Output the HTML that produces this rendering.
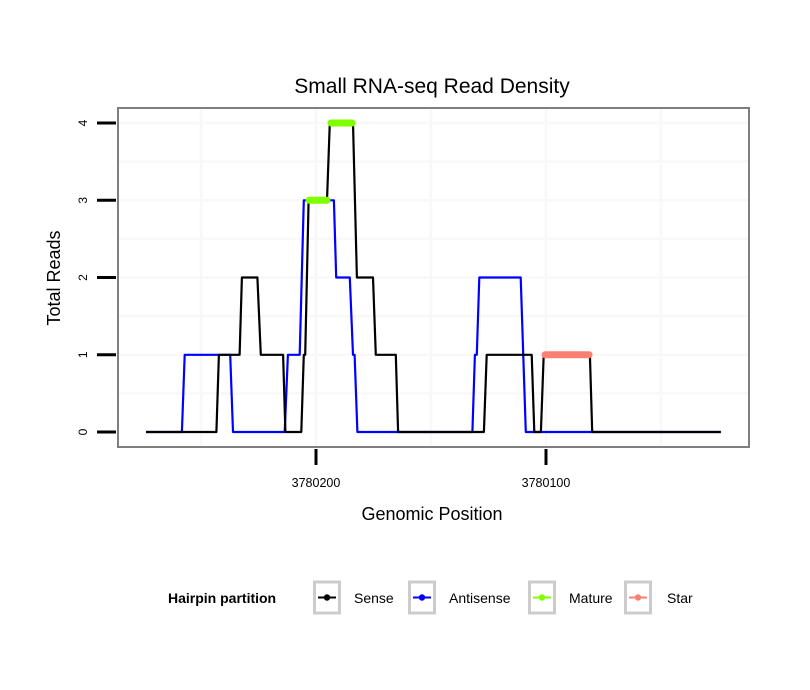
<!DOCTYPE html>
<html><head><meta charset="utf-8"><style>
body{margin:0;background:#fff;}
svg{display:block;font-family:"Liberation Sans",sans-serif;}
</style></head><body>
<svg id="c" width="810" height="690">
<text x="432" y="93" text-anchor="middle" font-size="21">Small RNA-seq Read Density</text>
<g id="grid"></g>
<g id="series"></g>
<rect x="118" y="108" width="631" height="339" fill="none" stroke="#7f7f7f" stroke-width="2"/>
<g id="axes"></g>
<text x="432" y="520" text-anchor="middle" font-size="18">Genomic Position</text>
<text transform="translate(60,278) rotate(-90)" text-anchor="middle" font-size="18">Total Reads</text>
<g id="legend"></g>
</svg>
<script>
const xTicks=[3780200,3780100];
const xMinor=[3780250,3780150,3780050];
const yTicks=[0,1,2,3,4];
const senseX=[3780273.9,3780243.3,3780242.2,3780233.2,3780232.2,3780225.5,3780224.0,3780214.3,3780213.3,3780206.4,3780205.3,3780204.7,3780203.2,3780195.2,3780194.0,3780183.9,3780182.2,3780175.2,3780174.0,3780165.3,3780164.3,3780127.0,3780125.8,3780106.2,3780105.1,3780102.2,3780101.0,3780080.9,3780079.9,3780024.0];
const senseY=[0,0,1,1,2,2,1,1,0,0,1,1,3,3,4,4,2,2,1,1,0,0,1,1,0,0,1,1,0,0];
const antiX=[3780273.9,3780258.3,3780257.1,3780237.3,3780236.1,3780213.6,3780212.2,3780207.1,3780205.3,3780192.2,3780191.2,3780185.3,3780183.9,3780183.2,3780182.0,3780132.0,3780130.9,3780130.1,3780129.0,3780111.0,3780108.8,3780024.0];
const antiY=[0,0,1,1,0,0,1,1,3,3,2,2,1,1,0,0,1,1,2,2,0,0];
const matureStart=[3780203.0,3780193.5];
const matureEnd=[3780195.2,3780184.3];
const matureVal=[3,4];
const starStart=[3780100.4];
const starEnd=[3780081.3];
const starVal=[1];
const legendLabels=["Sense","Antisense","Mature","Star"];
const legendColors=["#000000","#0000ff","#7fff00","#fa8072"];

const NS="http://www.w3.org/2000/svg";
const X=v=>316+(3780200-v)*2.3;
const Y=v=>432-v*77.25;
function mk(tag,attrs,parent){const e=document.createElementNS(NS,tag);for(const k in attrs)e.setAttribute(k,attrs[k]);parent.appendChild(e);return e;}
const grid=document.getElementById('grid'),ser=document.getElementById('series'),ax=document.getElementById('axes'),lg=document.getElementById('legend');
for(let v=0.5;v<4.1;v+=0.5){const g=mk('line',{x1:119,x2:748,y1:Y(v),y2:Y(v),stroke:'#f8f8f8','stroke-width':2.5},grid);

}
xTicks.concat(xMinor).forEach(v=>{const g=mk('line',{x1:X(v),x2:X(v),y1:109,y2:446,stroke:'#f8f8f8','stroke-width':2.5},grid);

});
function path(xs,ys,color,name){let d='';xs.forEach((x,i)=>{d+=(i?'L':'M')+X(x).toFixed(1)+','+Y(ys[i]).toFixed(1);});
const p=mk('path',{d:d,fill:'none',stroke:color,'stroke-width':2.2,'stroke-linejoin':'round'},ser);

}
path(antiX,antiY,'#0000ff','antisense-line');
path(senseX,senseY,'#000000','sense-line');
function segs(s,e,v,color,name){s.forEach((a,i)=>{const l=mk('line',{x1:X(a),x2:X(e[i]),y1:Y(v[i]),y2:Y(v[i]),stroke:color,'stroke-width':7,'stroke-linecap':'round'},ser);

});}
segs(matureStart,matureEnd,matureVal,'#7fff00','mature-segment');
segs(starStart,starEnd,starVal,'#fa8072','star-segment');
yTicks.forEach(v=>{const t=mk('line',{x1:97,x2:116,y1:Y(v),y2:Y(v),stroke:'#000','stroke-width':3},ax);


const tx=mk('text',{transform:`translate(87,${Y(v)}) rotate(-90)`,'text-anchor':'middle','font-size':12},ax);tx.textContent=v;

});
xTicks.forEach(v=>{const t=mk('line',{x1:X(v),x2:X(v),y1:449,y2:465,stroke:'#000','stroke-width':3},ax);


const tx=mk('text',{x:X(v),y:487,'text-anchor':'middle','font-size':12.5},ax);tx.textContent=v;

});
const lt=mk('text',{x:168,y:603,'font-size':14,'font-weight':'bold'},lg);lt.textContent='Hairpin partition';


const bx=[313,408,528,624],tx=[354,449,569,667];
legendLabels.forEach((lab,i)=>{const g=mk('g',{},lg);


mk('rect',{x:bx[i]+1.5,y:582,width:25,height:31,fill:'#fff',stroke:'#cccccc','stroke-width':3},g);
mk('line',{x1:bx[i]+5,x2:bx[i]+23,y1:597.5,y2:597.5,stroke:legendColors[i],'stroke-width':2},g);
mk('circle',{cx:bx[i]+14,cy:597.5,r:3.2,fill:legendColors[i]},g);
const t=mk('text',{x:tx[i],y:603,'font-size':14},g);t.textContent=lab;});
</script>
</body></html>
